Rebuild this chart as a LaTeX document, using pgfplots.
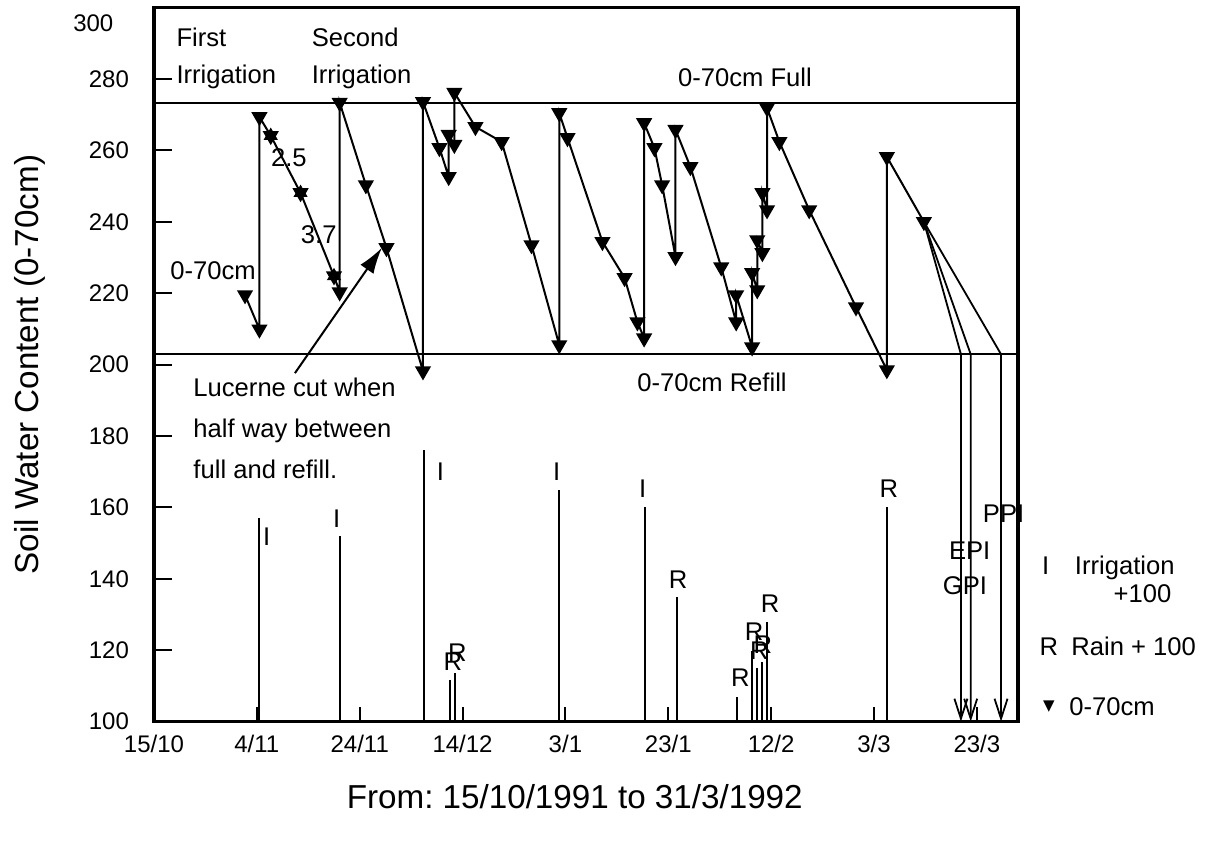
\documentclass[border=0pt]{standalone}
\usepackage{fontspec}
\setmainfont{Liberation Sans}
\newfontfamily\symfont{DejaVu Sans}
\usepackage{pgfplots}
\pgfplotsset{compat=1.18}
\usetikzlibrary{arrows.meta}
\newcommand\ann{\fontsize{12.8}{15}\selectfont}
\frenchspacing

\begin{document}
\begin{tikzpicture}[lab/.style={font=\ann, inner sep=0pt}]
\begin{axis}[
  scale only axis,
  width=432pt, height=357pt,
  xmin=0, xmax=168, ymin=100, ymax=300,
  clip=false,
  axis line style={line width=1.6pt},
  xtick={0,20,...,160},
  xticklabels={15/10,4/11,24/11,14/12,3/1,23/1,12/2,3/3,23/3},
  ytick={100,120,...,280},
  tick align=inside,
  xtick pos=bottom, ytick pos=left,
  xtick style={line width=1pt, /pgfplots/major tick length=7.5pt, black},
  ytick style={line width=1pt, /pgfplots/major tick length=9pt, black},
  tick label style={font=\fontsize{12}{14}\selectfont},
  /pgf/number format/assume math mode=true,
  yticklabel style={xshift=-9pt},
  xticklabel style={yshift=-3.4pt},
  xlabel={From: 15/10/1991 to 31/3/1992},
  ylabel={Soil Water Content (0-70cm)},
  label style={font=\fontsize{16.6}{19}\selectfont},
  xlabel style={at={(axis description cs:0.487,-0.1056)},anchor=center},
  ylabel style={at={(axis description cs:-0.1435,0.5)},anchor=center},
  unbounded coords=jump,
]
\coordinate (bbsw) at (rel axis cs:0,0);
\coordinate (bbne) at (rel axis cs:1,1);

% full and refill lines
\addplot[black, line width=0.8pt] coordinates {(0,273.2) (168,273.2)};
\addplot[black, line width=0.8pt] coordinates {(0,202.9) (168,202.9)};

% irrigation and rain bars (value + 100)
\addplot[black, line width=1pt] coordinates {
  (20.4,100) (20.4,157.0) (20.4,nan)
  (36.1,100) (36.1,152.0) (36.1,nan)
  (52.5,100) (52.5,176.1) (52.5,nan)
  (57.5,100) (57.5,111.7) (57.5,nan)
  (58.6,100) (58.6,113.6) (58.6,nan)
  (78.8,100) (78.8,164.9) (78.8,nan)
  (95.5,100) (95.5,160.1) (95.5,nan)
  (101.6,100) (101.6,134.9) (101.6,nan)
  (113.4,100) (113.4,106.9) (113.4,nan)
  (116.3,100) (116.3,119.8) (116.3,nan)
  (117.3,100) (117.3,115.0) (117.3,nan)
  (118.3,100) (118.3,116.7) (118.3,nan)
  (119.2,100) (119.2,127.9) (119.2,nan)
  (142.5,100) (142.5,160.1)
};

% soil water content 0-70cm
\addplot[black, line width=1pt, mark=triangle*, mark size=3.7pt,
  mark options={rotate=180, solid}] coordinates {
  (17.7,219.5) (20.5,209.9) (20.5,269.4) (22.7,264.1) (28.5,248.1)
  (35.0,224.8) (36.1,220.3) (36.1,273.4) (41.2,250.3) (45.2,232.7)
  (52.3,198.2) (52.3,273.6) (55.5,260.7) (57.3,252.6) (57.3,264.4)
  (58.4,261.6) (58.4,276.2) (62.5,266.6) (67.6,262.4) (73.4,233.5)
  (78.8,205.5) (78.8,270.5) (80.4,263.5) (87.2,234.4) (91.5,224.3)
  (94.0,211.9) (95.3,207.4) (95.3,267.7) (97.3,260.7) (98.8,250.3)
  (101.4,230.2) (101.4,265.8) (104.3,255.4) (110.3,227.3) (113.2,211.9)
  (113.2,219.5) (116.3,204.9) (116.3,225.7) (117.3,220.9) (117.3,234.9)
  (118.3,231.3) (118.3,248.1) (119.2,243.3) (119.2,271.9) (121.6,262.4)
  (127.4,243.3) (136.5,216.1) (142.5,198.5) (142.5,258.2) (149.7,240.0)
};
\addplot[only marks, black, mark=triangle*, mark size=3.7pt] coordinates {
  (22.7,264.1) (28.5,248.1) (35.0,224.8)
};

% projections to refill
\addplot[black, line width=0.9pt, -{Straight Barb[length=10pt,width=6.5pt]}]
  coordinates {(149.7,240.0) (156.9,202.9) (156.9,100)};
\addplot[black, line width=0.9pt, -{Straight Barb[length=10pt,width=6.5pt]}]
  coordinates {(149.7,240.0) (158.8,202.9) (158.8,100)};
\addplot[black, line width=0.9pt, -{Straight Barb[length=10pt,width=6.5pt]}]
  coordinates {(149.7,240.0) (164.7,202.9) (164.7,100)};

% texts
\node[font=\fontsize{12}{14}\selectfont] at (axis cs:-11.8,295.7) {300};
\node[lab, anchor=base west] at (axis cs:4.3,289.0) {First};
\node[lab, anchor=base west] at (axis cs:4.3,278.7) {Irrigation};
\node[lab, anchor=base west] at (axis cs:30.6,289.0) {Second};
\node[lab, anchor=base west] at (axis cs:30.6,278.7) {Irrigation};
\node[lab, anchor=base east] at (axis cs:128.0,277.9) {0-70cm Full};
\node[lab, anchor=base] at (axis cs:108.5,192.6) {0-70cm Refill};
\node[lab, anchor=base west] at (axis cs:3.1,223.7) {0-70cm};
\node[lab, anchor=base west] at (axis cs:22.7,255.4) {2.5};
\node[lab, anchor=base west] at (axis cs:28.5,234.0) {3.7};
\node[lab, anchor=base west] at (axis cs:7.6,191.0) {Lucerne cut when};
\node[lab, anchor=base west] at (axis cs:7.6,179.6) {half way between};
\node[lab, anchor=base west] at (axis cs:7.6,168.2) {full and refill.};
\draw[black, line width=1pt, -{Latex[length=13pt,width=8pt]}]
  (axis cs:27.4,197.6) -- (axis cs:44.3,232.7);

% I / R labels
\node[lab, anchor=base] at (axis cs:21.9,149.2) {I};
\node[lab, anchor=base] at (axis cs:35.5,154.5) {I};
\node[lab, anchor=base] at (axis cs:55.7,167.4) {I};
\node[lab, anchor=base] at (axis cs:58.1,114.2) {R};
\node[lab, anchor=base] at (axis cs:59.0,116.7) {R};
\node[lab, anchor=base] at (axis cs:78.3,167.4) {I};
\node[lab, anchor=base] at (axis cs:95.0,162.9) {I};
\node[lab, anchor=base] at (axis cs:101.9,137.4) {R};
\node[lab, anchor=base] at (axis cs:114.0,109.7) {R};
\node[lab, anchor=base] at (axis cs:116.7,122.6) {R};
\node[lab, anchor=base] at (axis cs:117.7,117.5) {R};
\node[lab, anchor=base] at (axis cs:118.4,119.2) {R};
\node[lab, anchor=base] at (axis cs:119.8,130.7) {R};
\node[lab, anchor=base] at (axis cs:142.9,162.9) {R};
\node[lab, anchor=base] at (axis cs:157.7,135.7) {GPI};
\node[lab, anchor=base] at (axis cs:158.6,145.5) {EPI};
\node[lab, anchor=base] at (axis cs:165.2,155.9) {PPI};

% key
\node[lab, anchor=base] at (axis cs:173.4,141.3) {I};
\node[lab, anchor=base west] at (axis cs:179.0,141.3) {Irrigation};
\node[lab, anchor=base east] at (axis cs:197.9,133.5) {+100};
\node[lab, anchor=base] at (axis cs:174.0,118.4) {R};
\node[lab, anchor=base west] at (axis cs:178.3,118.4) {Rain + 100};
\node[font=\fontsize{7.5}{8}\selectfont\symfont, inner sep=0pt] at (axis cs:174.0,104.1) {▼};
\node[lab, anchor=base west] at (axis cs:177.9,101.6) {0-70cm};
\end{axis}
\pgfresetboundingbox
\path ([xshift=-77pt,yshift=-59.7pt]bbsw) rectangle ([xshift=93.5pt,yshift=3.8pt]bbne);
\end{tikzpicture}
\end{document}
